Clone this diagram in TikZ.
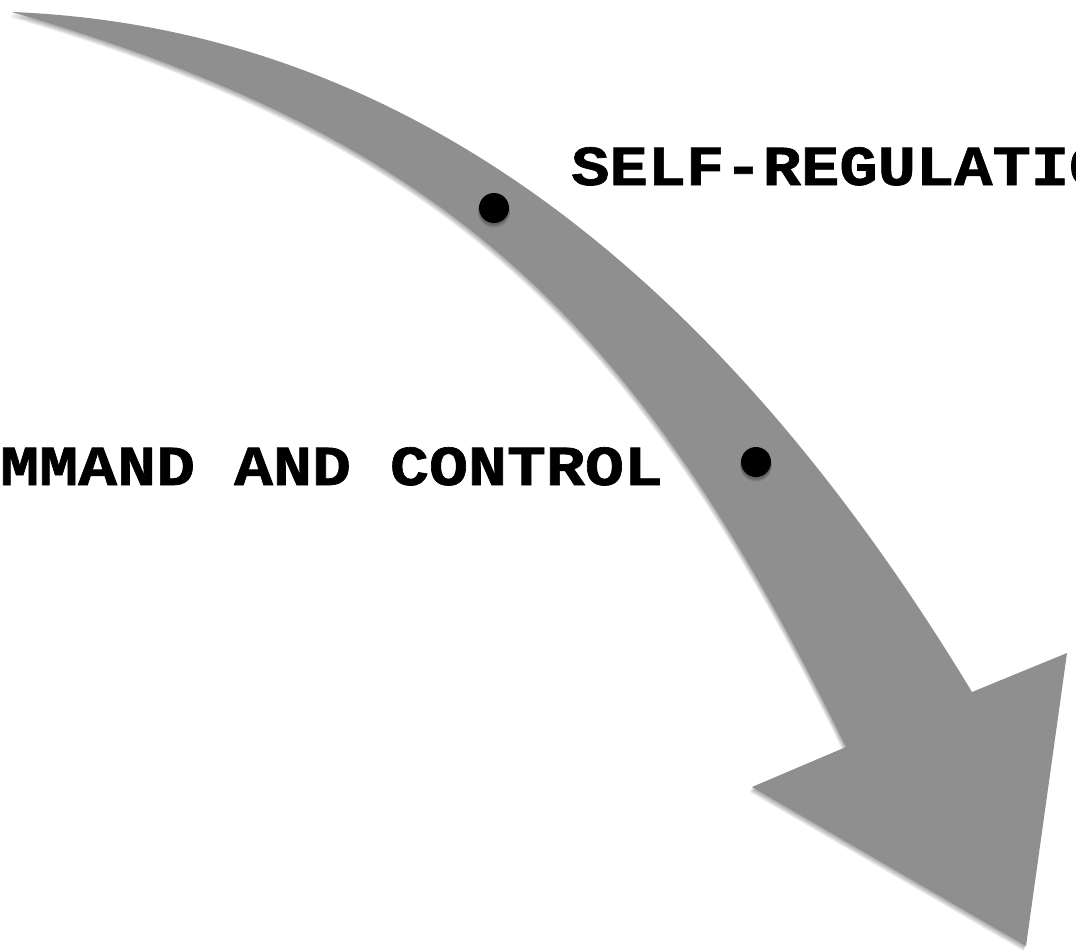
\documentclass[tikz,border=0pt]{standalone}
\usepackage{fontspec}
\newfontfamily\selffont{Liberation Mono}[UprightFont={* Bold}, FakeStretch=1.13, FakeBold=1.2]
\newfontfamily\cmdfont{Liberation Mono}[UprightFont={* Bold}, FakeStretch=1.15, FakeBold=1.2]
\definecolor{arrowgray}{RGB}{143,143,143}
\newcommand\arrowoutline{(12,12) .. controls (442,29) and (748,322) .. (972,692)
  -- (1067,653) -- (1026,946) -- (752,787) -- (846,747)
  .. controls (641,328) and (458,142) .. (12,12) -- cycle}
\begin{document}
\begin{tikzpicture}[x=1pt,y=-1pt,
  shadowlayer/.style={fill=black, fill opacity=0.07, draw=none},
  arrowbody/.style={fill=arrowgray, draw=none},
  stepdot/.style={circle, fill=black, minimum size=30pt, inner sep=0pt},
  phrase/.style={anchor=base west, inner sep=0pt}]
\useasboundingbox (0,0) rectangle (1076,951);
\clip (0,0) rectangle (1076,951);
\fill[white] (0,0) rectangle (1076,951);
% soft drop shadow of the arrow (down and to the left)
\foreach \dx/\dy in {-0.5/1, -1/2, -1.5/3, -2/4, -2.5/5}{
  \fill[shadowlayer, shift={(\dx,\dy)}] \arrowoutline;
}
\path[arrowbody] \arrowoutline;
% soft shadows of the dots
\foreach \r/\dy in {15/1.5, 15.5/2.5, 16/3.5}{
  \fill[shadowlayer, fill opacity=0.12] (494,208+\dy) circle[radius=\r];
  \fill[shadowlayer, fill opacity=0.12] (756,462+\dy) circle[radius=\r];
}
\node[stepdot] (d1) at (494,208) {};
\node[stepdot] (d2) at (756,462) {};
\node[phrase, font=\selffont\fontsize{56.5}{60}\selectfont] (sr) at (571,185) {SELF-REGULATION};
\node[phrase, font=\cmdfont\fontsize{56.5}{60}\selectfont] (cc) at (-78,485) {COMMAND AND CONTROL};
\end{tikzpicture}
\end{document}
